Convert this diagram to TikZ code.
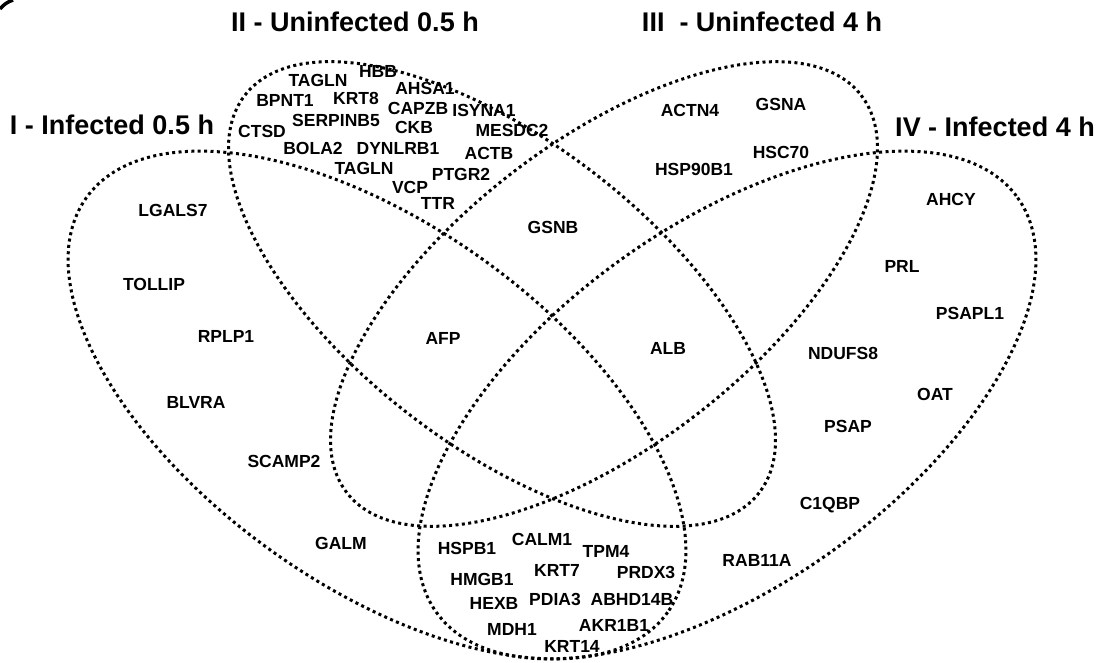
\documentclass[tikz,border=0pt]{standalone}
\usepackage{fontspec}
\setmainfont{Liberation Sans}
\usepackage{tikz}

\tikzset{
  venn/.style={line width=3pt, dash pattern=on 3pt off 3.4pt},
  gene/.style={inner sep=0pt, font=\fontsize{17.5}{19}\selectfont\bfseries},
  settitle/.style={inner sep=0pt, font=\fontsize{27}{30}\selectfont\bfseries}
}

\begin{document}
\begin{tikzpicture}[x=1pt,y=-1pt]
    \useasboundingbox (0,0) rectangle (1100,662);
    \draw[line width=3.5pt] (0,9) to[bend left=15] (13,0);

    \draw[venn, rotate around={-35.5:(377,405)}] (377,405) ellipse (357 and 180);
    \draw[venn, rotate around={-37.7:(502,294)}] (502,294) ellipse (325 and 152);
    \draw[venn, rotate around={37.7:(604,294)}] (604,294) ellipse (325 and 152);
    \draw[venn, rotate around={35.5:(727,405)}] (727,405) ellipse (357 and 180);

    \node[settitle] (tI) at (112,125) {I - Infected 0.5 h};
    \node[settitle] (tII) at (355,22) {II - Uninfected 0.5 h};
    \node[settitle] (tIII) at (762,22) {III\ \ - Uninfected 4 h};
    \node[settitle] (tIV) at (995,127) {IV - Infected 4 h};

    \node[gene] (tagln) at (318,80) {TAGLN};
    \node[gene] (hbb) at (378,71) {HBB};
    \node[gene] (ahsa) at (425,88) {AHSA1};
    \node[gene] (bpnt) at (285,100) {BPNT1};
    \node[gene] (krt8) at (356,98) {KRT8};
    \node[gene] (capzb) at (418,108) {CAPZB};
    \node[gene] (isyna) at (484,110) {ISYNA1};
    \node[gene] (ctsd) at (262,131) {CTSD};
    \node[gene] (serpinb) at (336,120) {SERPINB5};
    \node[gene] (ckb) at (414,127) {CKB};
    \node[gene] (mesdc) at (512,130) {MESDC2};
    \node[gene] (bola) at (313,148) {BOLA2};
    \node[gene] (dynlrb) at (398,148) {DYNLRB1};
    \node[gene] (actb) at (489,153) {ACTB};
    \node[gene] (taglnb) at (364,168) {TAGLN};
    \node[gene] (ptgr) at (461,174) {PTGR2};
    \node[gene] (vcp) at (410,187) {VCP};
    \node[gene] (ttr) at (438,203) {TTR};

    \node[gene] (actn) at (690,110) {ACTN4};
    \node[gene] (gsna) at (781,104) {GSNA};
    \node[gene] (hsc) at (781,152) {HSC70};
    \node[gene] (hsp) at (694,169) {HSP90B1};
    \node[gene] (gsnb) at (553,227) {GSNB};
    \node[gene] (afp) at (443,338) {AFP};
    \node[gene] (alb) at (668,348) {ALB};

    \node[gene] (lgals) at (173,210) {LGALS7};
    \node[gene] (tollip) at (154,284) {TOLLIP};
    \node[gene] (rplp) at (226,336) {RPLP1};
    \node[gene] (blvra) at (196,402) {BLVRA};
    \node[gene] (scamp) at (284,461) {SCAMP2};
    \node[gene] (galm) at (341,543) {GALM};

    \node[gene] (hspb) at (467,548) {HSPB1};
    \node[gene] (calm) at (542,539) {CALM1};
    \node[gene] (tpm) at (606,551) {TPM4};
    \node[gene] (hmgb) at (482,579) {HMGB1};
    \node[gene] (krt7) at (557,570) {KRT7};
    \node[gene] (prdx) at (646,572) {PRDX3};
    \node[gene] (hexb) at (494,603) {HEXB};
    \node[gene] (pdia) at (555,599) {PDIA3};
    \node[gene] (abhd) at (632,599) {ABHD14B};
    \node[gene] (mdh) at (512,629) {MDH1};
    \node[gene] (akr) at (614,625) {AKR1B1};
    \node[gene] (krt14) at (572,646) {KRT14};

    \node[gene] (ahcy) at (951,199) {AHCY};
    \node[gene] (prl) at (902,266) {PRL};
    \node[gene] (psapl) at (970,313) {PSAPL1};
    \node[gene] (ndufs) at (843,353) {NDUFS8};
    \node[gene] (oat) at (935,394) {OAT};
    \node[gene] (psap) at (848,426) {PSAP};
    \node[gene] (cqbp) at (830,505) {C1QBP};
    \node[gene] (rab) at (757,560) {RAB11A};
\end{tikzpicture}
\end{document}
